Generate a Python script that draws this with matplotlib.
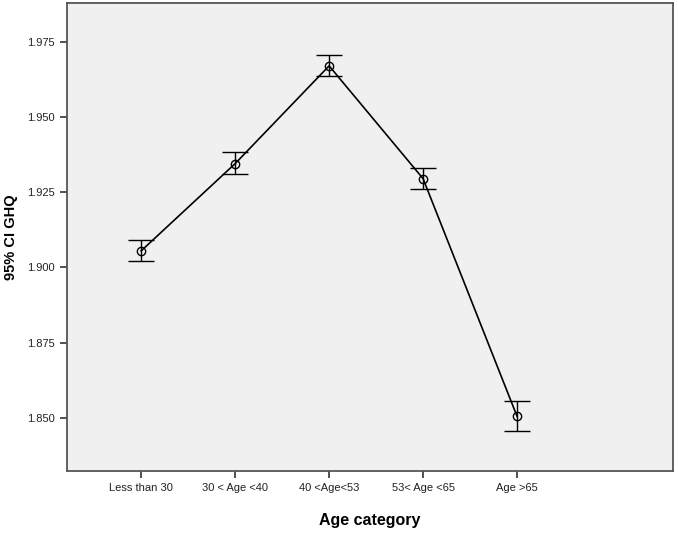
import matplotlib
matplotlib.use("Agg")
import matplotlib.pyplot as plt
import numpy as np

# Data (mean GHQ and 95% CI per age group)
categories = ["Less than 30", "30 < Age <40", "40 <Age<53", "53< Age <65", "Age >65"]
means = [1.9055, 1.9345, 1.967, 1.9295, 1.8505]
ci_lower = [1.902, 1.931, 1.9635, 1.926, 1.8455]
ci_upper = [1.909, 1.9385, 1.9705, 1.933, 1.8555]
yticks = [1.850, 1.875, 1.900, 1.925, 1.950, 1.975]

plt.rcParams['font.family'] = ['Liberation Sans', 'DejaVu Sans']

fig = plt.figure(figsize=(6.78, 5.41), dpi=100)
ax = fig.add_axes([0.0988, 0.1294, 0.8938, 0.8651])
ax.set_facecolor("#f0f0f0")

x = np.arange(len(categories))
m = np.array(means)
err = [m - np.array(ci_lower), np.array(ci_upper) - m]

ax.errorbar(x, m, yerr=err, fmt="none", ecolor="black", elinewidth=1.0,
            capsize=9.5, capthick=1.0)
ax.plot(x, m, color="black", lw=1.2, marker="o", markersize=6,
        markerfacecolor="none", markeredgecolor="black", markeredgewidth=1.0)

ax.set_xlim(-0.79, 5.66)
ax.set_ylim(1.8323, 1.9879)
ax.set_xticks(x)
ax.set_xticklabels(categories, fontsize=8, color="#222222")
ax.set_yticks(yticks)
ax.set_yticklabels(["%.3f" % v for v in yticks], fontsize=8, color="#222222")
ax.tick_params(direction="out", length=5, width=1.2, color="#333333", pad=4)

for s in ax.spines.values():
    s.set_color("#555555")
    s.set_linewidth(1.3)

ax.set_xlabel("Age category", fontsize=11.5, fontweight="bold", labelpad=14)
ax.set_ylabel("95% CI GHQ", fontsize=10.5, fontweight="bold", labelpad=6)

fig.savefig("out.png", dpi=100)
